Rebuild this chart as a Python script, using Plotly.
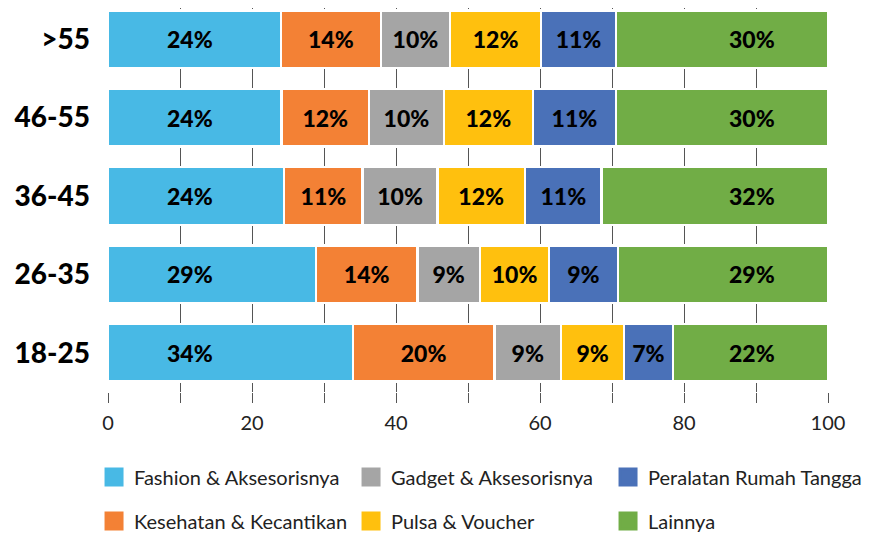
import plotly.graph_objects as go

age_groups = ["18-25", "26-35", "36-45", "46-55", ">55"]

fashion = [34.0, 28.9, 24.45, 24.1, 24.0]
kesehatan = [19.66, 14.06, 10.93, 12.15, 13.9]
gadget = [9.28, 8.72, 10.38, 10.4, 9.6]
pulsa = [8.75, 9.57, 12.14, 12.35, 12.65]
peralatan = [6.75, 9.55, 10.67, 11.56, 10.4]
lainnya = [21.57, 29.2, 31.43, 29.44, 29.45]

fashion_lbl = [34, 29, 24, 24, 24]
kesehatan_lbl = [20, 14, 11, 12, 14]
gadget_lbl = [9, 9, 10, 10, 10]
pulsa_lbl = [9, 10, 12, 12, 12]
peralatan_lbl = [7, 9, 11, 11, 11]
lainnya_lbl = [22, 29, 32, 30, 30]

series = [
    ("Fashion & Aksesorisnya", fashion, fashion_lbl, "#48B9E5", "legend", 1),
    ("Kesehatan & Kecantikan", kesehatan, kesehatan_lbl, "#F38135", "legend2", 1),
    ("Gadget & Aksesorisnya", gadget, gadget_lbl, "#A5A5A5", "legend", 2),
    ("Pulsa & Voucher", pulsa, pulsa_lbl, "#FFC00E", "legend2", 2),
    ("Peralatan Rumah Tangga", peralatan, peralatan_lbl, "#4A71B8", "legend", 3),
    ("Lainnya", lainnya, lainnya_lbl, "#71AD46", "legend2", 3),
]

FONT = "Lato"
label_font = dict(family=FONT, size=23, color="#000000", weight=900)

fig = go.Figure()
for i, (name, vals, lbls, color, leg, rank) in enumerate(series):
    inside = 0 < i < len(series) - 1
    fig.add_trace(go.Bar(
        y=age_groups, x=vals, name=name, orientation="h",
        marker=dict(color=color, line=dict(color="white", width=2.5)),
        text=[f"{v}%" for v in lbls] if inside else None,
        textposition="inside" if inside else "none",
        insidetextanchor="middle", textangle=0,
        textfont=label_font, constraintext="none",
        showlegend=False, hoverinfo="x+y+name",
    ))
    # legend entry with a larger square swatch
    fig.add_trace(go.Scatter(
        x=[None], y=[None], mode="markers", name=name,
        marker=dict(symbol="square", size=16, color=color,
                    line=dict(color=color, width=3)),
        legend=leg, legendrank=rank, hoverinfo="skip",
    ))

# labels of first and last segments sit at fixed columns in the original
for col_x, lbls in ((11.4, fashion_lbl), (89.4, lainnya_lbl)):
    for g, v in zip(age_groups, lbls):
        fig.add_annotation(
            x=col_x, y=g, xref="x", yref="y", text=f"{v}%",
            showarrow=False, font=label_font, yshift=0,
            xanchor="center", yanchor="middle",
        )

# page body adds an 8px offset; plot area in figure coordinates
OFF = 8
PLOT_H = 392 - OFF
ROW = 78.4
legend_common = dict(
    orientation="h", xanchor="left", yanchor="middle",
    x=-0.0194, entrywidth=212, entrywidthmode="pixels",
    font=dict(family=FONT, size=20, color="#222222"),
    bgcolor="rgba(0,0,0,0)", traceorder="normal", itemsizing="trace",
)

fig.update_layout(
    width=881, height=536,
    margin=dict(l=108 - OFF, r=881 - (108 - OFF) - 720, t=0, b=536 - PLOT_H),
    barmode="stack", bargap=0.265,
    plot_bgcolor="white", paper_bgcolor="white",
    font=dict(family=FONT, color="#222222"),
    legend=dict(**legend_common, y=(PLOT_H - (477 - OFF)) / PLOT_H),
    legend2=dict(**legend_common, y=(PLOT_H - (521 - OFF)) / PLOT_H),
    xaxis=dict(
        range=[0, 100], dtick=20, tick0=0,
        showgrid=True, gridcolor="#555555", gridwidth=1,
        zeroline=False, showline=False,
        ticks="outside", ticklen=10, tickcolor="#555555", tickwidth=1,
        tickfont=dict(family=FONT, size=20, color="#222222"),
        ticklabelstandoff=3,
        minor=dict(dtick=10, showgrid=True, gridcolor="#555555", gridwidth=1,
                   ticks="outside", ticklen=10, tickcolor="#555555"),
        fixedrange=True,
    ),
    yaxis=dict(
        range=[-0.5, 4.5 - OFF / ROW],
        showgrid=False, zeroline=False, showline=False,
        tickfont=dict(family=FONT, size=28, color="#000000", weight=900),
        ticklabelstandoff=17, fixedrange=True,
    ),
    uniformtext=dict(mode=False),
)

fig.write_html("out.html")
